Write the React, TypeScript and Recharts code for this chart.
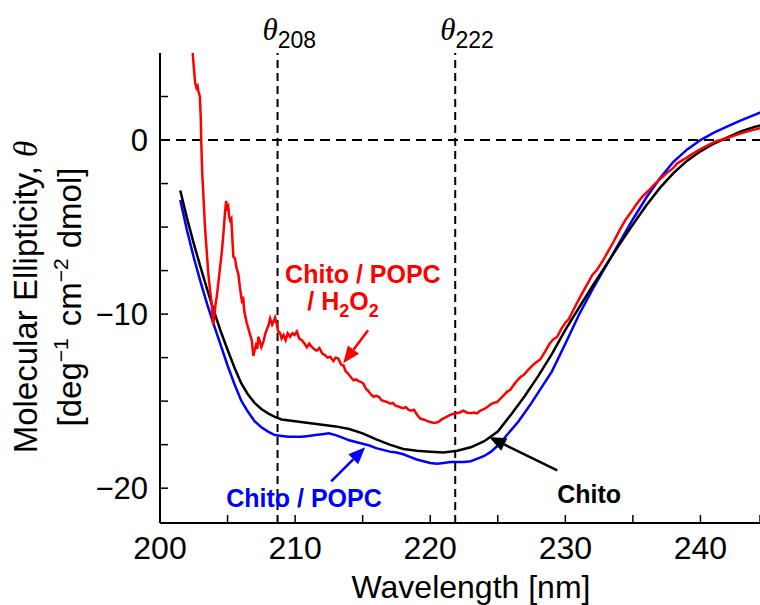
import React from "react";
import { LineChart, Line, XAxis, YAxis, ReferenceLine, ReferenceDot } from "recharts";

const FONT = '"Liberation Sans", Arial, Helvetica, sans-serif';

// Chito (black)
const chitoWl = [
  201.5, 202, 202.5, 203, 203.5, 204, 204.5, 205, 205.5, 206, 206.5, 207, 207.5, 208, 208.5, 209,
  210, 211, 212, 213, 214, 215, 216, 217, 218, 219, 220, 221, 222, 223, 224, 225, 226, 227, 228, 229,
  230, 231, 232, 233, 234, 235, 236, 237, 238, 239, 240, 241, 242, 243, 244, 245,
];
const chitoTheta = [
  -2.9, -4.5, -5.95, -7.3, -8.6, -9.85, -11.0, -12.05, -13.05, -13.95, -14.6, -15.1, -15.45, -15.7, -15.9, -16.05,
  -16.15, -16.25, -16.35, -16.45, -16.6, -16.85, -17.2, -17.5, -17.75, -17.85, -17.9, -17.95, -17.85, -17.65, -17.3, -16.75, -15.75, -14.7, -13.55, -12.3,
  -10.9, -9.65, -8.4, -7.2, -6.0, -4.85, -3.75, -2.75, -1.9, -1.2, -0.65, -0.2, 0.15, 0.5, 0.75, 0.95,
];

// Chito / POPC (blue)
const popcWl = [
  201.5, 202, 202.5, 203, 203.5, 204, 204.5, 205, 205.5, 206, 206.5, 207, 207.5, 208, 208.5, 209, 209.5,
  210, 210.5, 211, 211.5, 212, 212.5, 213, 213.5, 214, 214.5, 215, 215.5, 216, 216.5, 217, 217.5,
  218, 218.5, 219, 219.5, 220, 220.5, 221, 221.5, 222, 222.5, 223, 223.5, 224, 224.5, 225, 225.5,
  226, 226.5, 227, 227.5, 228, 229, 230, 231, 232, 233, 234, 235, 236, 237, 238, 239, 240, 241, 242, 243, 244, 245,
];
const popcTheta = [
  -3.45, -5.2, -6.75, -8.15, -9.45, -10.65, -11.8, -12.95, -14.0, -14.95, -15.6, -16.15, -16.5, -16.75, -16.95, -17.0, -17.05,
  -17.05, -17.05, -17.0, -16.95, -16.9, -16.85, -16.95, -17.1, -17.25, -17.35, -17.45, -17.55, -17.7, -17.8, -17.9, -17.95,
  -18.05, -18.2, -18.35, -18.45, -18.55, -18.6, -18.55, -18.5, -18.5, -18.5, -18.45, -18.3, -18.15, -17.9, -17.55, -17.1,
  -16.65, -16.2, -15.65, -15.1, -14.5, -13.3, -11.7, -10.05, -8.6, -7.25, -5.9, -4.55, -3.3, -2.2, -1.25, -0.55, 0.0, 0.42, 0.78, 1.13, 1.45, 1.75,
];

// Chito / POPC / H2O2 (red)
const h2o2Wl = [
  202.3, 202.42, 202.5, 202.6, 202.7, 202.78, 202.84, 202.95, 203.02, 203.05, 203.12, 203.2, 203.33, 203.45, 203.58, 203.7,
  203.83, 203.93, 204.0, 204.1, 204.2, 204.32, 204.45, 204.58, 204.69, 204.8, 204.89, 204.97, 205.05, 205.12, 205.19, 205.28,
  205.35, 205.43, 205.55, 205.65, 205.8, 205.92, 206.05, 206.15, 206.25, 206.42, 206.6, 206.79, 206.91, 207.0, 207.1, 207.2,
  207.28, 207.4, 207.5, 207.65, 207.8, 207.9, 208.05, 208.15, 208.3, 208.42, 208.52, 208.62, 208.75, 208.89, 209.0, 209.15,
  209.3, 209.45, 209.63, 209.8, 209.95, 210.13, 210.3, 210.5, 210.7, 210.87, 211.05, 211.2, 211.4, 211.6, 211.8, 212.0,
  212.2, 212.4, 212.6, 212.84, 213.0, 213.2, 213.4, 213.58, 213.75, 213.9, 214.1, 214.32, 214.5, 214.7, 214.9, 215.06,
  215.25, 215.4, 215.6, 215.8, 216.0, 216.2, 216.4, 216.6, 216.8, 217.04, 217.25, 217.4, 217.6, 217.78, 218.0, 218.2,
  218.4, 218.6, 218.8, 219.0, 219.26, 219.5, 219.8, 220.0, 220.3, 220.6, 220.85, 221.1, 221.35, 221.6, 221.9, 222.2,
  222.45, 222.7, 223.0, 223.25, 223.46, 223.7, 224.0, 224.2, 224.45, 224.7, 224.94, 225.2, 225.45, 225.7, 225.93, 226.2,
  226.45, 226.7, 226.91, 227.2, 227.5, 227.8, 228.15, 228.5, 228.8, 229.1, 229.4, 229.7, 230.0, 230.25, 230.6, 231.0,
  231.5, 232.0, 232.35, 232.8, 233.2, 233.6, 234.0, 234.44, 234.9, 235.3, 235.7, 236.17, 236.6, 237.0, 237.5, 238.0,
  238.27, 238.8, 239.3, 239.8, 240.3, 240.8, 241.2, 241.5, 242.0, 242.5, 243.0, 243.5, 244.0, 244.5, 245.0,
];
const h2o2Theta = [
  6.5, 5.0, 4.2, 3.3, 3.0, 3.1, 2.8, 2.5, 1.2, 0.0, -1.8, -3.0, -5.0, -6.3, -7.7, -8.6,
  -9.4, -10.6, -10.3, -9.5, -9.0, -8.2, -7.3, -6.4, -5.4, -4.3, -3.5, -3.9, -3.8, -4.4, -4.6, -4.5,
  -5.6, -6.7, -6.8, -7.3, -7.7, -8.5, -9.2, -9.0, -9.9, -10.5, -11.0, -11.5, -12.4, -12.1, -11.8, -12.0,
  -11.3, -11.6, -11.9, -11.6, -11.1, -10.9, -10.6, -10.25, -10.6, -10.4, -10.2, -10.5, -11.0, -11.1, -11.4, -11.2,
  -11.5, -11.1, -11.3, -11.1, -11.2, -11.0, -11.4, -11.5, -11.7, -11.9, -11.7, -11.85, -12.0, -12.1, -11.95, -12.25,
  -12.35, -12.5, -12.45, -12.7, -12.5, -12.55, -12.9, -12.95, -13.3, -13.4, -13.6, -13.8, -13.75, -13.85, -13.9, -14.0,
  -14.3, -14.4, -14.6, -14.75, -14.7, -14.75, -14.95, -15.0, -15.05, -15.15, -15.1, -15.25, -15.3, -15.35, -15.4, -15.35,
  -15.5, -15.55, -15.5, -15.75, -16.0, -16.05, -16.15, -16.2, -16.25, -16.2, -16.05, -15.95, -15.85, -15.75, -15.7, -15.65,
  -15.55, -15.65, -15.7, -15.65, -15.7, -15.55, -15.45, -15.35, -15.2, -15.1, -15.05, -14.85, -14.65, -14.45, -14.35, -14.05,
  -13.8, -13.6, -13.5, -13.25, -13.0, -12.8, -12.6, -12.15, -11.75, -11.45, -11.3, -10.85, -10.5, -10.3, -9.75, -9.15,
  -8.45, -7.75, -7.45, -6.9, -6.35, -5.8, -5.2, -4.6, -4.1, -3.65, -3.25, -2.9, -2.55, -2.25, -1.9, -1.6,
  -1.35, -1.1, -0.85, -0.6, -0.4, -0.2, -0.05, 0.0, 0.12, 0.25, 0.38, 0.5, 0.6, 0.7, 0.78,
];

const xTicks = [200, 205, 210, 215, 220, 225, 230, 235, 240, 245];
const xLabelTicks = [200, 210, 220, 230, 240];
const yTicksLeft = [2.5, 0, -2.5, -5, -7.5, -10, -12.5, -15, -17.5, -20];
const yLabelTicks = [0, -10, -20];
const yTicksRight = [0, -5, -10, -15, -20];

const toRows = (wl: number[], th: number[]) => wl.map((w, i) => ({ wl: w, theta: th[i] }));
const chitoData = toRows(chitoWl, chitoTheta);
const popcData = toRows(popcWl, popcTheta);
const h2o2Data = toRows(h2o2Wl, h2o2Theta);

const minus = (v: number) => (v < 0 ? "\u2212" + Math.abs(v) : String(v));

const BottomTick = (props: any) => {
  const { x, y, payload } = props;
  const v = payload.value;
  return (
    <g>
      <line x1={x} y1={y} x2={x} y2={y - 8} stroke="#000" strokeWidth={1.5} />
      {xLabelTicks.includes(v) && (
        <text x={x} y={y + 36} textAnchor="middle" fontSize={32} fontFamily={FONT} fill="#000">
          {v}
        </text>
      )}
    </g>
  );
};

const TopTick = (props: any) => {
  const { x, y } = props;
  return <line x1={x} y1={y} x2={x} y2={y + 8} stroke="#000" strokeWidth={1.5} />;
};

const LeftTick = (props: any) => {
  const { x, y, payload } = props;
  const v = payload.value;
  return (
    <g>
      <line x1={x} y1={y} x2={x + 8} y2={y} stroke="#000" strokeWidth={1.5} />
      {yLabelTicks.includes(v) && (
        <text x={x - 12} y={y + 11} textAnchor="end" fontSize={31} fontFamily={FONT} fill="#000">
          {minus(v)}
        </text>
      )}
    </g>
  );
};

const RightTick = (props: any) => {
  const { x, y } = props;
  return <line x1={x} y1={y} x2={x - 11} y2={y} stroke="#000" strokeWidth={1.5} />;
};

const YTitle = (props: any) => {
  const vb = props.viewBox;
  const cy = vb.y + vb.height / 2 + 9;
  const x1 = vb.x + 37;
  const x2 = vb.x + 81;
  return (
    <g fontFamily={FONT} fill="#000">
      <text x={x1} y={cy} textAnchor="middle" fontSize={33} transform={`rotate(-90, ${x1}, ${cy})`}>
        Molecular Ellipticity,{" "}
        <tspan fontFamily='"Liberation Serif", serif' fontStyle="italic">
          θ
        </tspan>
      </text>
      <text x={x2} y={cy} textAnchor="middle" fontSize={33} transform={`rotate(-90, ${x2}, ${cy})`}>
        [deg
        <tspan fontSize={21} dy={-13}>
          {"\u22121"}
        </tspan>
        <tspan dx={12} dy={13}>
          cm
        </tspan>
        <tspan fontSize={21} dy={-13}>
          {"\u22122"}
        </tspan>
        <tspan dx={10} dy={13}>
          dmol]
        </tspan>
      </text>
    </g>
  );
};

const XTitle = (props: any) => {
  const vb = props.viewBox;
  return (
    <text x={vb.x + vb.width / 2 + 7} y={vb.y + 75} textAnchor="middle" fontSize={32} fontFamily={FONT} fill="#000">
      Wavelength [nm]
    </text>
  );
};

const ThetaLabel = (props: any) => {
  const { viewBox, sub } = props;
  return (
    <text x={viewBox.x - 15} y={viewBox.y - 13} fill="#000">
      <tspan fontFamily='"Liberation Serif", serif' fontStyle="italic" fontSize={31}>
        θ
      </tspan>
      <tspan fontFamily={FONT} fontSize={23} dy={8}>
        {sub}
      </tspan>
    </text>
  );
};

const Arrow = (props: any) => {
  const { x1, y1, x2, y2, color } = props;
  const ang = Math.atan2(y2 - y1, x2 - x1);
  const len = 17;
  const half = 7;
  const bx = x2 - len * Math.cos(ang);
  const by = y2 - len * Math.sin(ang);
  const px = -Math.sin(ang) * half;
  const py = Math.cos(ang) * half;
  return (
    <g>
      <line x1={x1} y1={y1} x2={bx} y2={by} stroke={color} strokeWidth={2.5} />
      <polygon points={`${x2},${y2} ${bx + px},${by + py} ${bx - px},${by - py}`} fill={color} />
    </g>
  );
};

const Note = (props: any) => {
  const { viewBox, color, children } = props;
  return (
    <text x={viewBox.x} y={viewBox.y} fill={color} fontFamily={FONT} fontWeight="bold" fontSize={25}>
      {children}
    </text>
  );
};

export default function App() {
  return (
    <div
      style={{
        position: "absolute",
        left: 0,
        top: 0,
        width: 760,
        height: 605,
        overflow: "hidden",
        background: "#fff",
      }}
    >
      <LineChart width={772} height={605} margin={{ top: 53, right: 4, bottom: 22, left: 0 }}>
        <XAxis
          xAxisId="top"
          orientation="top"
          type="number"
          dataKey="wl"
          domain={[200, 245]}
          ticks={xTicks}
          height={0}
          tickSize={0}
          tickMargin={0}
          tickLine={false}
          tick={TopTick}
          axisLine={{ stroke: "#000", strokeWidth: 2 }}
          allowDataOverflow
        />
        <XAxis
          type="number"
          dataKey="wl"
          domain={[200, 245]}
          ticks={xTicks}
          height={60}
          tickSize={0}
          tickMargin={0}
          tickLine={false}
          tick={BottomTick}
          axisLine={{ stroke: "#000", strokeWidth: 2 }}
          allowDataOverflow
          label={{ content: XTitle }}
        />
        <YAxis
          type="number"
          domain={[-22, 5]}
          ticks={yTicksLeft}
          width={160}
          tickSize={0}
          tickMargin={0}
          tickLine={false}
          tick={LeftTick}
          axisLine={{ stroke: "#000", strokeWidth: 2 }}
          allowDataOverflow
          label={{ content: YTitle }}
        />
        <YAxis
          yAxisId="right"
          orientation="right"
          type="number"
          domain={[-22, 5]}
          ticks={yTicksRight}
          width={0}
          tickSize={0}
          tickMargin={0}
          tickLine={false}
          tick={RightTick}
          axisLine={{ stroke: "#000", strokeWidth: 2 }}
          allowDataOverflow
        />

        <ReferenceLine y={0} stroke="#000" strokeWidth={2} strokeDasharray="10 6" />
        <ReferenceLine
          x={208.7}
          stroke="#000"
          strokeWidth={2}
          strokeDasharray="8 5"
          label={(p: any) => <ThetaLabel {...p} sub="208" />}
        />
        <ReferenceLine
          x={221.85}
          stroke="#000"
          strokeWidth={2}
          strokeDasharray="8 5"
          label={(p: any) => <ThetaLabel {...p} sub="222" />}
        />

        <Line data={popcData} dataKey="theta" stroke="#0000ff" strokeWidth={2.5} dot={false} isAnimationActive={false} />
        <Line data={chitoData} dataKey="theta" stroke="#000000" strokeWidth={2.5} dot={false} isAnimationActive={false} />
        <Line data={h2o2Data} dataKey="theta" stroke="#ff0000" strokeWidth={2.5} dot={false} isAnimationActive={false} />

        <ReferenceLine
          segment={[
            { x: 215.4, y: -10.93 },
            { x: 213.56, y: -12.82 },
          ]}
          shape={(p: any) => <Arrow {...p} color="#ff0000" />}
        />
        <ReferenceLine
          segment={[
            { x: 212.67, y: -19.61 },
            { x: 215.19, y: -17.65 },
          ]}
          shape={(p: any) => <Arrow {...p} color="#0000ff" />}
        />
        <ReferenceLine
          segment={[
            { x: 229.4, y: -18.98 },
            { x: 224.35, y: -17.06 },
          ]}
          shape={(p: any) => <Arrow {...p} color="#000000" />}
        />

        <ReferenceDot
          x={209.26}
          y={-8.22}
          r={0}
          fill="none"
          stroke="none"
          label={(p: any) => (
            <Note {...p} color="#ff0000">
              Chito / POPC
            </Note>
          )}
        />
        <ReferenceDot
          x={210.9}
          y={-9.78}
          r={0}
          fill="none"
          stroke="none"
          label={(p: any) => (
            <Note {...p} color="#ff0000">
              / H
              <tspan fontSize={18} dy={7}>
                2
              </tspan>
              <tspan dy={-7}>O</tspan>
              <tspan fontSize={18} dy={7}>
                2
              </tspan>
            </Note>
          )}
        />
        <ReferenceDot
          x={204.9}
          y={-21.1}
          r={0}
          fill="none"
          stroke="none"
          label={(p: any) => (
            <Note {...p} color="#0000ff">
              Chito / POPC
            </Note>
          )}
        />
        <ReferenceDot
          x={229.4}
          y={-20.87}
          r={0}
          fill="none"
          stroke="none"
          label={(p: any) => (
            <Note {...p} color="#000000">
              Chito
            </Note>
          )}
        />
      </LineChart>
    </div>
  );
}
